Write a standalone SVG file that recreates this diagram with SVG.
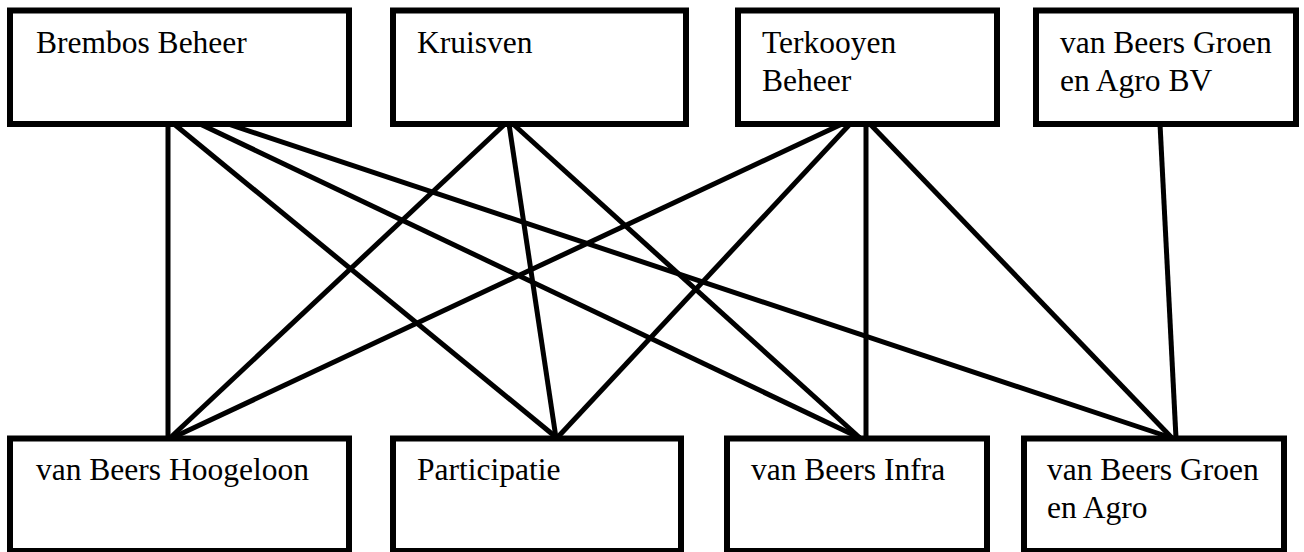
<svg xmlns="http://www.w3.org/2000/svg" width="1304" height="552" viewBox="0 0 1304 552">
<style>
.box{fill:#fff;stroke:#000;stroke-width:6}
.lbl{font-family:'Liberation Serif','Times New Roman',Times,'DejaVu Serif',serif;font-size:31.5px;fill:#000}
.con line{stroke:#000;stroke-width:5;stroke-linecap:butt}
</style>
<rect width="1304" height="552" fill="#fff"/>
<g id="connectors" class="con">
<line x1="168" y1="124" x2="168" y2="438"/>
<line x1="174" y1="124" x2="557" y2="438"/>
<line x1="200" y1="124" x2="860" y2="438"/>
<line x1="228" y1="124" x2="1172" y2="438"/>
<line x1="505" y1="124" x2="170" y2="438"/>
<line x1="509" y1="124" x2="556" y2="438"/>
<line x1="513" y1="124" x2="860" y2="438"/>
<line x1="842" y1="124" x2="172" y2="438"/>
<line x1="850" y1="124" x2="557" y2="438"/>
<line x1="866" y1="124" x2="866" y2="438"/>
<line x1="870" y1="124" x2="1172" y2="438"/>
<line x1="1160" y1="124" x2="1176" y2="438"/>
</g>
<g id="brembos"><rect class="box" x="10" y="10.5" width="339" height="113.5"/><text class="lbl" font-family="Liberation Serif, serif" x="36" y="53">Brembos Beheer</text></g>
<g id="kruisven"><rect class="box" x="393" y="10.5" width="293" height="113.5"/><text class="lbl" font-family="Liberation Serif, serif" x="417" y="53">Kruisven</text></g>
<g id="terkooyen"><rect class="box" x="738" y="10.5" width="259" height="113.5"/><text class="lbl" font-family="Liberation Serif, serif" x="762" y="53">Terkooyen</text><text class="lbl" font-family="Liberation Serif, serif" x="762" y="91">Beheer</text></g>
<g id="groen-bv"><rect class="box" x="1036" y="10.5" width="260" height="113.5"/><text class="lbl" font-family="Liberation Serif, serif" x="1060" y="53">van Beers Groen</text><text class="lbl" font-family="Liberation Serif, serif" x="1060" y="91">en Agro BV</text></g>
<g id="hoogeloon"><rect class="box" x="10" y="438.5" width="339" height="112.5"/><text class="lbl" font-family="Liberation Serif, serif" x="36" y="480">van Beers Hoogeloon</text></g>
<g id="participatie"><rect class="box" x="393" y="438.5" width="288" height="112.5"/><text class="lbl" font-family="Liberation Serif, serif" x="417" y="480">Participatie</text></g>
<g id="infra"><rect class="box" x="727" y="438.5" width="260" height="112.5"/><text class="lbl" font-family="Liberation Serif, serif" x="751" y="480">van Beers Infra</text></g>
<g id="groen"><rect class="box" x="1024" y="438.5" width="260" height="112.5"/><text class="lbl" font-family="Liberation Serif, serif" x="1047" y="480">van Beers Groen</text><text class="lbl" font-family="Liberation Serif, serif" x="1047" y="518">en Agro</text></g>
</svg>
